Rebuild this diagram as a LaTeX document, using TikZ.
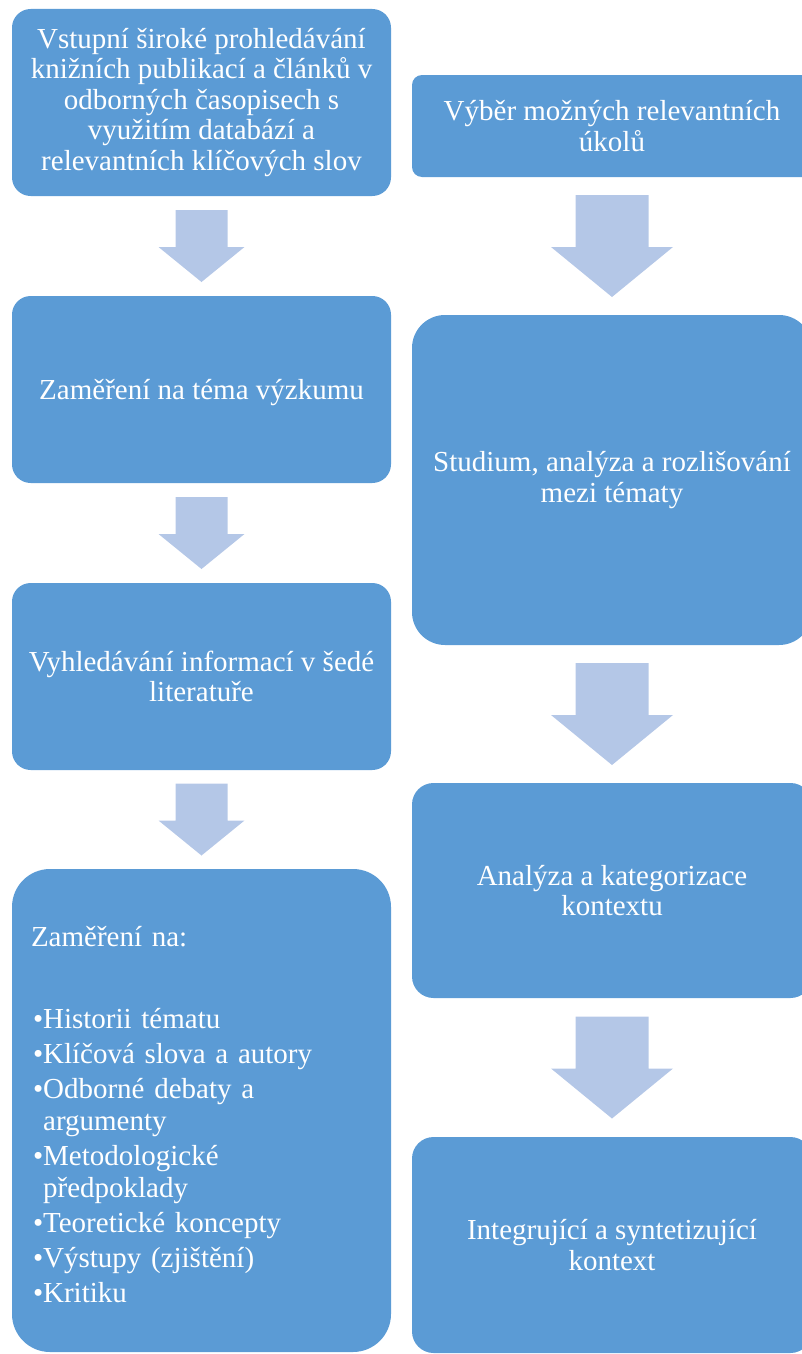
\documentclass[tikz,border=0pt]{standalone}
\usepackage{fontspec}
\setmainfont{Liberation Serif}
\usetikzlibrary{calc}
\definecolor{boxblue}{HTML}{5B9BD5}
\definecolor{arrowblue}{HTML}{B4C7E7}

% Block arrow pointing down, centred on a coordinate:
% #1 centre, #2 half shaft width, #3 half head width, #4 half length, #5 head length
\newcommand\downblock[5]{%
  \fill[flowarrow] ($(#1)+(-#2,-#4)$) -- ($(#1)+(#2,-#4)$) -- ($(#1)+(#2,#4-#5)$)
    -- ($(#1)+(#3,#4-#5)$) -- ($(#1)+(0,#4)$) -- ($(#1)+(-#3,#4-#5)$)
    -- ($(#1)+(-#2,#4-#5)$) -- cycle;}
% bullet item with a small lead-in
\newcommand\bitem{\hspace*{2pt}•}
\newcommand\bcont{\hspace*{2pt}\phantom{•}}

\begin{document}
\begin{tikzpicture}[x=1pt,y=-1pt,
  box/.style={fill=boxblue, text=white, align=center, inner sep=0pt,
    font=\fontsize{29}{30.5}\selectfont},
  leftcol/.style={box, minimum width=379pt},
  rightcol/.style={box, minimum width=400pt},
  flowarrow/.style={fill=arrowblue}]
\useasboundingbox (0,0) rectangle (802,1354);
\clip (0,0) rectangle (802,1354);

% left column
\node[leftcol, minimum height=187pt, rounded corners=18.7pt] (b1) at (201.5,102.5)
  {Vstupní široké prohledávání\\knižních publikací a článků v\\odborných časopisech s\\využitím databází a\\relevantních klíčových slov};
\node[leftcol, minimum height=187pt, rounded corners=18.7pt] (b2) at (201.5,389.5)
  {\rule{0pt}{27pt}Zaměření na téma výzkumu};
\node[leftcol, minimum height=187pt, rounded corners=18.7pt] (b3) at (201.5,676.5)
  {Vyhledávání informací v šedé\\literatuře};
\node[leftcol, minimum height=483pt, rounded corners=38pt, align=left, text width=341pt,
  font=\fontsize{29}{32}\selectfont] (b4) at (201.5,1110.5)
  {\rule{0pt}{29pt}Zaměření na:\\[50pt]
   \bitem Historii tématu\\[3pt]
   \bitem Klíčová slova a autory\\[3pt]
   \bitem Odborné debaty a\\
   \bcont argumenty\\[3pt]
   \bitem Metodologické\\
   \bcont předpoklady\\[3pt]
   \bitem Teoretické koncepty\\[3pt]
   \bitem Výstupy (zjištění)\\[3pt]
   \bitem Kritiku};

% right column
\node[rightcol, minimum height=102pt, rounded corners=10pt] (r1) at (612,126)
  {Výběr možných relevantních\\úkolů};
\node[rightcol, minimum height=330pt, rounded corners=33pt] (r2) at (612,480)
  {Studium, analýza a rozlišování\\mezi tématy};
\node[rightcol, minimum height=215pt, rounded corners=21.5pt] (r3) at (612,890.5)
  {Analýza a kategorizace\\kontextu};
\node[rightcol, minimum height=216pt, rounded corners=21.6pt] (r4) at (612,1245)
  {Integrující a syntetizující\\kontext};

% arrows between the steps
\coordinate (a1) at ($(b1.south)!0.5!(b2.north)$);
\coordinate (a2) at ($(b2.south)!0.5!(b3.north)$);
\coordinate (a3) at ($(b3.south)!0.5!(b4.north)$);
\coordinate (a4) at ($(r1.south)!0.5!(r2.north)$);
\coordinate (a5) at ($(r2.south)!0.5!(r3.north)$);
\coordinate (a6) at ($(r3.south)!0.5!(r4.north)$);
\downblock{a1}{26}{43}{36}{35}
\downblock{a2}{26}{43}{36}{35}
\downblock{a3}{26}{43}{36}{35}
\downblock{a4}{36.5}{61}{51}{50}
\downblock{a5}{36.5}{61}{51}{50}
\downblock{a6}{36.5}{61}{51}{50}
\end{tikzpicture}
\end{document}
